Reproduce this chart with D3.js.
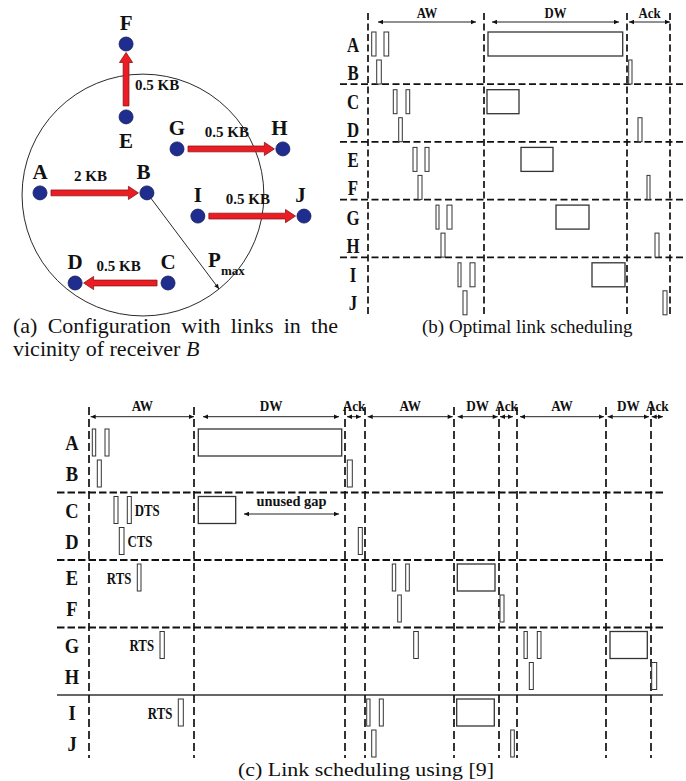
<!DOCTYPE html>
<html><head><meta charset="utf-8">
<script src="https://cdn.jsdelivr.net/npm/d3@7"></script>
<style>
body{margin:0;background:#fff}
svg{display:block}
svg text{font-family:'Liberation Serif','Tinos','Times New Roman',Times,serif;fill:#111}
</style>
</head><body>
<svg id="fig" width="686" height="781" font-family="Liberation Serif, Tinos, Times New Roman, Times, serif"></svg>
<script>
// ---------------- DATA ----------------
// Panel (a): node positions in abstract units (x: A=0..J=100, y: F=0..C/D=100)
const nodeNames = ["A","B","C","D","E","F","G","H","I","J"];
const nodeX = [0, 40.5, 48.5, 13.3, 32.6, 32.6, 51.9, 92, 59.8, 100];
const nodeY = [62.3, 62.3, 100, 100, 30.5, 0, 43.9, 43.9, 72, 72];
const nodeLabelSide = ["above","above","above","above","below","above","above","above","above","above"];
const linkFrom = ["A","E","G","I","C"];
const linkTo   = ["B","F","H","J","D"];
const linkSize = ["2 KB","0.5 KB","0.5 KB","0.5 KB","0.5 KB"];
const rangeCenter = [39.0, 63.2];   // centre of the P_max range circle (units)
const rangeRadius = 45.8;           // radius (x units)
const pmaxAngle = 51;               // degrees below horizontal

// Node pairs (sender, receiver)
const pairs = [["A","B"],["C","D"],["E","F"],["G","H"],["I","J"]];

// Panel (b): optimal schedule (time units)
const bBounds = [0, 116, 259, 302];
const bWindows = [["AW",10,108],["DW",124,251],["Ack",261,302]];
const bPackets = [
  ["A",3.7,8],["A",16,20.7],["A",120,254.7],
  ["B",8.7,13.3],["B",260.7,264],
  ["C",25.3,29],["C",38,41.7],["C",119,151],
  ["D",30.7,34.3],["D",270,274],
  ["E",45,49],["E",57,61],["E",153,185],
  ["F",50,54],["F",279,282],
  ["G",68,71],["G",79,84],["G",188,221],
  ["H",73,77],["H",287,291],
  ["I",90,93],["I",102,107],["I",224,257],
  ["J",95,99],["J",295,299]
];

// Panel (c): scheduling using [9] (time units)
const cBounds = [0, 105, 256, 276, 365, 410, 428, 517, 562];
const cWindows = [["AW",1.7,105],["DW",114,250],["Ack",258,272],["AW",278.7,363.7],
  ["DW",368.7,408.7],["Ack",411,424],["AW",431,515],["DW",518.7,560],["Ack",562.7,574]];
const cPackets = [
  ["A",3.3,6.7],["A",16,20],["A",109.3,252.7],
  ["B",8.3,12.3],["B",258.3,263.3],
  ["C",25,29],["C",38.3,42.3],["C",109.3,146.7],
  ["D",30.3,35],["D",269.3,273.3],
  ["E",48.3,52],["E",303.3,306.7],["E",316.7,320.3],["E",368.3,406],
  ["F",308.7,312.3],["F",411,415],
  ["G",71,75.3],["G",324.7,329.3],["G",435,438.3],["G",448.3,452],["G",521,558.3],
  ["H",440.3,444.3],["H",562.7,567.7],
  ["I",89.3,94.3],["I",277.7,281],["I",290.3,294.3],["I",367.7,405.3],
  ["J",282.7,287],["J",421.7,425.3]
];
const cTags = [["C","DTS","right",42.3],["D","CTS","right",35],
  ["E","RTS","left",48.3],["G","RTS","left",71],["I","RTS","left",89.3]];
const cGap = ["C", 155, 250, "unused gap"];
const cSepStyle = ["dashed","dashed","dashed","solid"];

// ---------------- DRAW ----------------
const svg = d3.select("#fig");
const defs = svg.append("defs");
defs.append("marker").attr("id","ah").attr("viewBox","0 0 10 10")
  .attr("refX",10).attr("refY",5).attr("markerWidth",6).attr("markerHeight",5)
  .attr("markerUnits","userSpaceOnUse").attr("orient","auto-start-reverse")
  .append("path").attr("d","M0,0.5L10,5L0,9.5Z").attr("fill","#111");
defs.append("marker").attr("id","ah2").attr("viewBox","0 0 10 10")
  .attr("refX",10).attr("refY",5).attr("markerWidth",7).attr("markerHeight",5)
  .attr("markerUnits","userSpaceOnUse").attr("orient","auto")
  .append("path").attr("d","M0,0.5L10,5L0,9.5Z").attr("fill","#111");

function squeeze(sel, f, mode){
  sel.each(function(){
    const w = this.getComputedTextLength();
    d3.select(this).attr("textLength", w*f).attr("lengthAdjust", mode||"spacingAndGlyphs");
  });
}
function justify(sel, target){
  sel.each(function(){
    const t = d3.select(this), txt = t.text();
    const n = (txt.match(/ /g)||[]).length;
    const w = this.getComputedTextLength();
    if (n>0 && w<target) t.attr("word-spacing", (target-w)/n);
  });
}

// ===== Panel (a) =====
const xa = d3.scaleLinear().domain([0,100]).range([40,304]);
const ya = d3.scaleLinear().domain([0,100]).range([44,283]);
const gA = svg.append("g");
const nodes = nodeNames.map((n,i)=>({id:n, x:xa(nodeX[i]), y:ya(nodeY[i]), side:nodeLabelSide[i]}));
const byId = Object.fromEntries(nodes.map(d=>[d.id,d]));
const ccx = xa(rangeCenter[0]), ccy = ya(rangeCenter[1]);
const cr = xa(rangeCenter[0]+rangeRadius) - ccx;
gA.append("circle").attr("cx",ccx).attr("cy",ccy).attr("r",cr)
  .attr("fill","none").attr("stroke","#111").attr("stroke-width",0.9);

// P_max radius arrow from B
const B = byId["B"];
const ang = pmaxAngle*Math.PI/180;
const px2 = ccx + cr*Math.cos(ang), py2 = ccy + cr*Math.sin(ang);
const ddx = px2-B.x, ddy = py2-B.y, dl = Math.hypot(ddx,ddy);
gA.append("line").attr("x1",B.x+ddx/dl*4).attr("y1",B.y+ddy/dl*4).attr("x2",px2).attr("y2",py2)
  .attr("stroke","#111").attr("stroke-width",0.9).attr("marker-end","url(#ah2)");
const pt = gA.append("text").attr("x",px2-11).attr("y",py2-22)
  .attr("font-weight","bold").attr("font-size",21);
pt.append("tspan").text("P");
pt.append("tspan").attr("font-size",13).attr("dy",8).text("max");

// links (block arrows)
function blockArrow(x1,y1,x2,y2){
  const dx=x2-x1, dy=y2-y1, L=Math.hypot(dx,dy), ux=dx/L, uy=dy/L, qx=-uy, qy=ux;
  const sw=2.9, hl=10, hw=6.6;
  const pts=[[0,-sw],[L-hl,-sw],[L-hl,-hw],[L,0],[L-hl,hw],[L-hl,sw],[0,sw]];
  return "M"+pts.map(([a,b])=>[x1+ux*a+qx*b, y1+uy*a+qy*b].join(",")).join("L")+"Z";
}
const links = linkFrom.map((f,i)=>({s:byId[f], t:byId[linkTo[i]], size:linkSize[i]}));
links.forEach(l=>{
  const dx=l.t.x-l.s.x, dy=l.t.y-l.s.y, L=Math.hypot(dx,dy), ux=dx/L, uy=dy/L;
  l.x1=l.s.x+ux*11; l.y1=l.s.y+uy*11; l.x2=l.t.x-ux*8.5; l.y2=l.t.y-uy*8.5;
  l.vertical = Math.abs(dy)>Math.abs(dx);
});
gA.selectAll("path.link").data(links).join("path").attr("class","link")
  .attr("d",l=>blockArrow(l.x1,l.y1,l.x2,l.y2))
  .attr("fill","#ec1c24").attr("stroke","#8c1515").attr("stroke-width",0.8);
gA.selectAll("text.kb").data(links).join("text").attr("class","kb")
  .attr("font-weight","bold").attr("font-size",15)
  .attr("text-anchor",l=>l.vertical?"start":"middle")
  .attr("x",l=>l.vertical? l.s.x+9 : (l.s.x+l.t.x)/2-3)
  .attr("y",l=>l.vertical? (l.s.y+l.t.y)/2+10 : l.s.y-12)
  .text(l=>l.size);

// nodes
gA.selectAll("circle.node").data(nodes).join("circle").attr("class","node")
  .attr("cx",d=>d.x).attr("cy",d=>d.y).attr("r",7)
  .attr("fill","#1f2d8f").attr("stroke","#101a5c").attr("stroke-width",0.8);
const rightTargets = new Set(links.filter(l=>l.t.x>l.s.x+5).map(l=>l.t.id));
gA.selectAll("text.nlab").data(nodes).join("text").attr("class","nlab")
  .attr("font-weight","bold").attr("font-size",21).attr("text-anchor","middle")
  .attr("x",d=>d.x + (rightTargets.has(d.id)?-3.5:0))
  .attr("y",d=>d.side==="above"? d.y-14 : d.y+31)
  .text(d=>d.id);

// captions (a)
svg.append("text").attr("x",13).attr("y",333).attr("font-size",22)
  .text("(a) Configuration with links in the").call(justify, 325);
const cap2 = svg.append("text").attr("x",13).attr("y",356).attr("font-size",22);
cap2.append("tspan").text("vicinity of receiver ");
cap2.append("tspan").attr("font-style","italic").text("B");

// ===== Generic schedule panel =====
function drawSchedule(opt){
  const g = svg.append("g");
  const x = d3.scaleLinear().domain(opt.tDomain).range(opt.xRange);
  const yp = d3.scaleBand().domain(pairs.map(p=>p.join(""))).range(opt.yRange).padding(0);
  const rowIndex = {};
  pairs.forEach((p,i)=>{ rowIndex[p[0]]={pair:p.join(""),sub:0}; rowIndex[p[1]]={pair:p.join(""),sub:1}; });
  const rowTop = r => yp(rowIndex[r].pair) + (rowIndex[r].sub===0 ? opt.subOff[0] : opt.subOff[1]);
  // separators
  pairs.slice(1).forEach((p,i)=>{
    const yy = yp(p.join("")) + opt.sepOff;
    const solid = opt.sepStyle && opt.sepStyle[i]==="solid";
    g.append("line").attr("x1",opt.hRange[0]).attr("x2",opt.hRange[1]).attr("y1",yy).attr("y2",yy)
      .attr("stroke", solid?"#333":"#111").attr("stroke-width", solid?1.3:1.8)
      .attr("stroke-dasharray", solid?null:opt.dash);
  });
  // vertical window boundaries
  g.selectAll("line.vb").data(opt.bounds).join("line").attr("class","vb")
    .attr("x1",d=>x(d)).attr("x2",d=>x(d)).attr("y1",opt.vRange[0]).attr("y2",opt.vRange[1])
    .attr("stroke","#111").attr("stroke-width",1.7).attr("stroke-dasharray",opt.vdash);
  // window arrows and labels
  g.selectAll("line.wa").data(opt.windows).join("line").attr("class","wa")
    .attr("x1",d=>x(d[1])).attr("x2",d=>x(d[2])).attr("y1",opt.arrowY).attr("y2",opt.arrowY)
    .attr("stroke","#222").attr("stroke-width",1)
    .attr("marker-start","url(#ah)").attr("marker-end","url(#ah)");
  g.selectAll("text.wl").data(opt.windows).join("text").attr("class","wl")
    .attr("x",d=>(x(d[1])+x(d[2]))/2).attr("y",opt.labelY)
    .attr("text-anchor","middle").attr("font-weight","bold").attr("font-size",15)
    .text(d=>d[0]).call(squeeze, opt.wf);
  // row labels
  const rows = pairs.flat();
  g.selectAll("text.rl").data(rows).join("text").attr("class","rl")
    .attr("x",opt.rowLabelX).attr("y",d=>rowTop(d)+opt.rectH/2+7.5)
    .attr("text-anchor","middle").attr("font-weight","bold").attr("font-size",21)
    .text(d=>d).call(squeeze, opt.rf);
  // packets
  g.selectAll("rect.pk").data(opt.packets).join("rect").attr("class","pk")
    .attr("x",d=>x(d[1])).attr("width",d=>x(d[2])-x(d[1]))
    .attr("y",d=>rowTop(d[0])).attr("height",opt.rectH)
    .attr("fill","#fff").attr("stroke","#333").attr("stroke-width",d=>(d[2]-d[1])>10?1.3:1);
  return {g,x,rowTop};
}

// ===== Panel (b) =====
drawSchedule({
  tDomain:[0,302], xRange:[368,670], yRange:[28,316.5], subOff:[4,32], sepOff:-1.5,
  hRange:[340,684], vRange:[13,317], bounds:bBounds, windows:bWindows,
  arrowY:22, labelY:18, rowLabelX:353, packets:bPackets, rectH:24,
  dash:"7,3.5", vdash:"7,3.5", wf:0.85, rf:0.8
});
svg.append("text").attr("x",422).attr("y",333).attr("font-size",19)
  .text("(b) Optimal link scheduling").call(justify, 208);

// ===== Panel (c) =====
const pc = drawSchedule({
  tDomain:[0,574], xRange:[89,663], yRange:[425.5,763], subOff:[3.5,34.5], sepOff:-0.5,
  hRange:[57,663], vRange:[407,758], bounds:cBounds, windows:cWindows,
  arrowY:416.7, labelY:411, rowLabelX:72, packets:cPackets, rectH:27,
  dash:"7.5,3", vdash:"8,4", wf:0.88, rf:0.88, sepStyle:cSepStyle
});
pc.g.selectAll("text.tag").data(cTags).join("text").attr("class","tag")
  .attr("x",d=>d[2]==="right"? pc.x(d[3])+3.5 : pc.x(d[3])-6)
  .attr("y",d=>pc.rowTop(d[0])+13.5+6)
  .attr("text-anchor",d=>d[2]==="right"?"start":"end")
  .attr("font-weight","bold").attr("font-size",16)
  .text(d=>d[1]).call(squeeze,0.8);
const gapTop = pc.rowTop(cGap[0]) - 3.5;
pc.g.append("line").attr("x1",pc.x(cGap[1])).attr("x2",pc.x(cGap[2]))
  .attr("y1",gapTop+21).attr("y2",gapTop+21)
  .attr("stroke","#222").attr("stroke-width",1)
  .attr("marker-start","url(#ah)").attr("marker-end","url(#ah)");
pc.g.append("text").attr("x",(pc.x(cGap[1])+pc.x(cGap[2]))/2).attr("y",gapTop+13)
  .attr("text-anchor","middle").attr("font-weight","bold").attr("font-size",15)
  .text(cGap[3]).call(squeeze,0.96);
svg.append("text").attr("x",238).attr("y",776).attr("font-size",19)
  .attr("textLength",256).attr("lengthAdjust","spacingAndGlyphs")
  .text("(c) Link scheduling using [9]");
</script>
</body></html>
